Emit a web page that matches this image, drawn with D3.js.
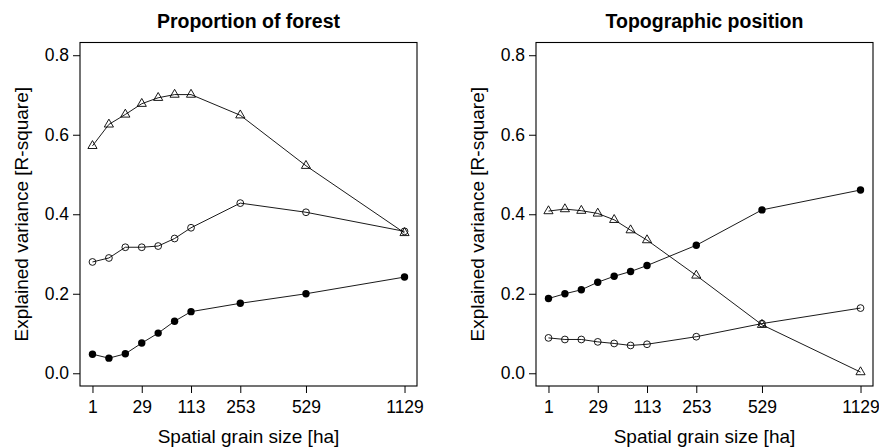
<!DOCTYPE html>
<html><head><meta charset="utf-8">
<script src="https://cdn.jsdelivr.net/npm/d3@7"></script>
<style>body{margin:0;background:#fff}svg{display:block}text{font-family:"Liberation Sans",Arial,Helvetica,sans-serif;fill:#000}</style>
</head><body><svg id="c" width="879" height="448"></svg>
<script>
// grain sizes (ha) and corresponding neighbourhood radius (cells) used for x positions
const grainSizes = [1, 5, 13, 29, 49, 81, 113, 253, 529, 1129];
const grainRadius = [0, 1, 2, 3, 4, 5, 6, 9, 13, 19];
const xTickRadius = [0, 3, 6, 9, 13, 19];
const xTickLabels = ["1", "29", "113", "253", "529", "1129"];
const yTicks = [0, 0.2, 0.4, 0.6, 0.8];
const panelTitles = ["Proportion of forest", "Topographic position"];

// Panel 1: Proportion of forest
const forestTriangle = [0.572, 0.626, 0.651, 0.678, 0.693, 0.701, 0.701, 0.649, 0.522, 0.353];
const forestOpen     = [0.280, 0.290, 0.317, 0.317, 0.320, 0.339, 0.366, 0.428, 0.405, 0.357];
const forestFilled   = [0.048, 0.038, 0.049, 0.076, 0.101, 0.131, 0.155, 0.176, 0.200, 0.242];
// Panel 2: Topographic position
const topoTriangle = [0.408, 0.413, 0.409, 0.402, 0.386, 0.360, 0.335, 0.246, 0.122, 0.003];
const topoOpen     = [0.089, 0.085, 0.085, 0.079, 0.075, 0.070, 0.073, 0.092, 0.125, 0.164];
const topoFilled   = [0.188, 0.200, 0.210, 0.229, 0.244, 0.256, 0.271, 0.322, 0.411, 0.461];

const panels = [
  {title: panelTitles[0], left: 80, series: [
    {vals: forestTriangle, pch: "tri"}, {vals: forestOpen, pch: "open"}, {vals: forestFilled, pch: "filled"}]},
  {title: panelTitles[1], left: 536, series: [
    {vals: topoTriangle, pch: "tri"}, {vals: topoOpen, pch: "open"}, {vals: topoFilled, pch: "filled"}]}
];

const svg = d3.select("#c");
const W = 337, boxTop = 42.5, boxBottom = 386;
const y = d3.scaleLinear().domain([-0.032, 0.832]).range([boxBottom, boxTop]);
const fs = 19, tfs = 17.5;

panels.forEach(p => {
  const x = d3.scaleLinear().domain([-0.76, 19.76]).range([p.left, p.left + W]);
  const g = svg.append("g");
  // box
  g.append("rect").attr("x", p.left).attr("y", boxTop).attr("width", W).attr("height", boxBottom - boxTop)
    .attr("fill", "none").attr("stroke", "#000").attr("stroke-width", 1.1);
  // y axis
  const ya = g.append("g").attr("transform", `translate(${p.left},0)`)
    .call(d3.axisLeft(y).tickValues(yTicks).tickFormat(d3.format(".1f")).tickSize(7).tickPadding(4));
  ya.select(".domain").remove();
  ya.selectAll("text").attr("font-size", tfs).style("font-family", "Liberation Sans, Arial, sans-serif").attr("fill", "#000");
  ya.selectAll("line").attr("stroke", "#000");
  // x axis
  const xa = g.append("g").attr("transform", `translate(0,${boxBottom})`)
    .call(d3.axisBottom(x).tickValues(xTickRadius).tickFormat((d, i) => xTickLabels[i]).tickSize(7).tickPadding(8));
  xa.select(".domain").remove();
  xa.selectAll("text").attr("font-size", tfs).style("font-family", "Liberation Sans, Arial, sans-serif").attr("fill", "#000");
  xa.selectAll("line").attr("stroke", "#000");
  // titles
  g.append("text").attr("x", p.left + W / 2).attr("y", 28).attr("text-anchor", "middle")
    .attr("font-size", 19.5).attr("font-weight", "bold").text(p.title);
  g.append("text").attr("x", p.left + W / 2).attr("y", 443).attr("text-anchor", "middle")
    .attr("font-size", fs).text("Spatial grain size [ha]");
  g.append("text").attr("transform", `translate(${p.left - 52},${(boxTop + boxBottom) / 2}) rotate(-90)`)
    .attr("text-anchor", "middle").attr("font-size", fs).text("Explained variance [R-square]");
  // series
  const line = d3.line().x((d, i) => x(grainRadius[i])).y(d => y(d));
  p.series.forEach(s => {
    g.append("path").attr("d", line(s.vals)).attr("fill", "none").attr("stroke", "#000").attr("stroke-width", 0.9);
    const pts = g.append("g").selectAll("g").data(s.vals).join("g")
      .attr("transform", (d, i) => `translate(${x(grainRadius[i])},${y(d)})`);
    if (s.pch === "filled") {
      pts.append("circle").attr("r", 3.7).attr("fill", "#000");
    } else if (s.pch === "open") {
      pts.append("circle").attr("r", 3.4).attr("fill", "none").attr("stroke", "#000").attr("stroke-width", 0.9);
    } else {
      const r = 3.4;
      pts.append("path").attr("d", `M0,${-1.555 * r}L${1.347 * r},${0.778 * r}L${-1.347 * r},${0.778 * r}Z`)
        .attr("fill", "none").attr("stroke", "#000").attr("stroke-width", 0.9);
    }
  });
});
</script></body></html>
